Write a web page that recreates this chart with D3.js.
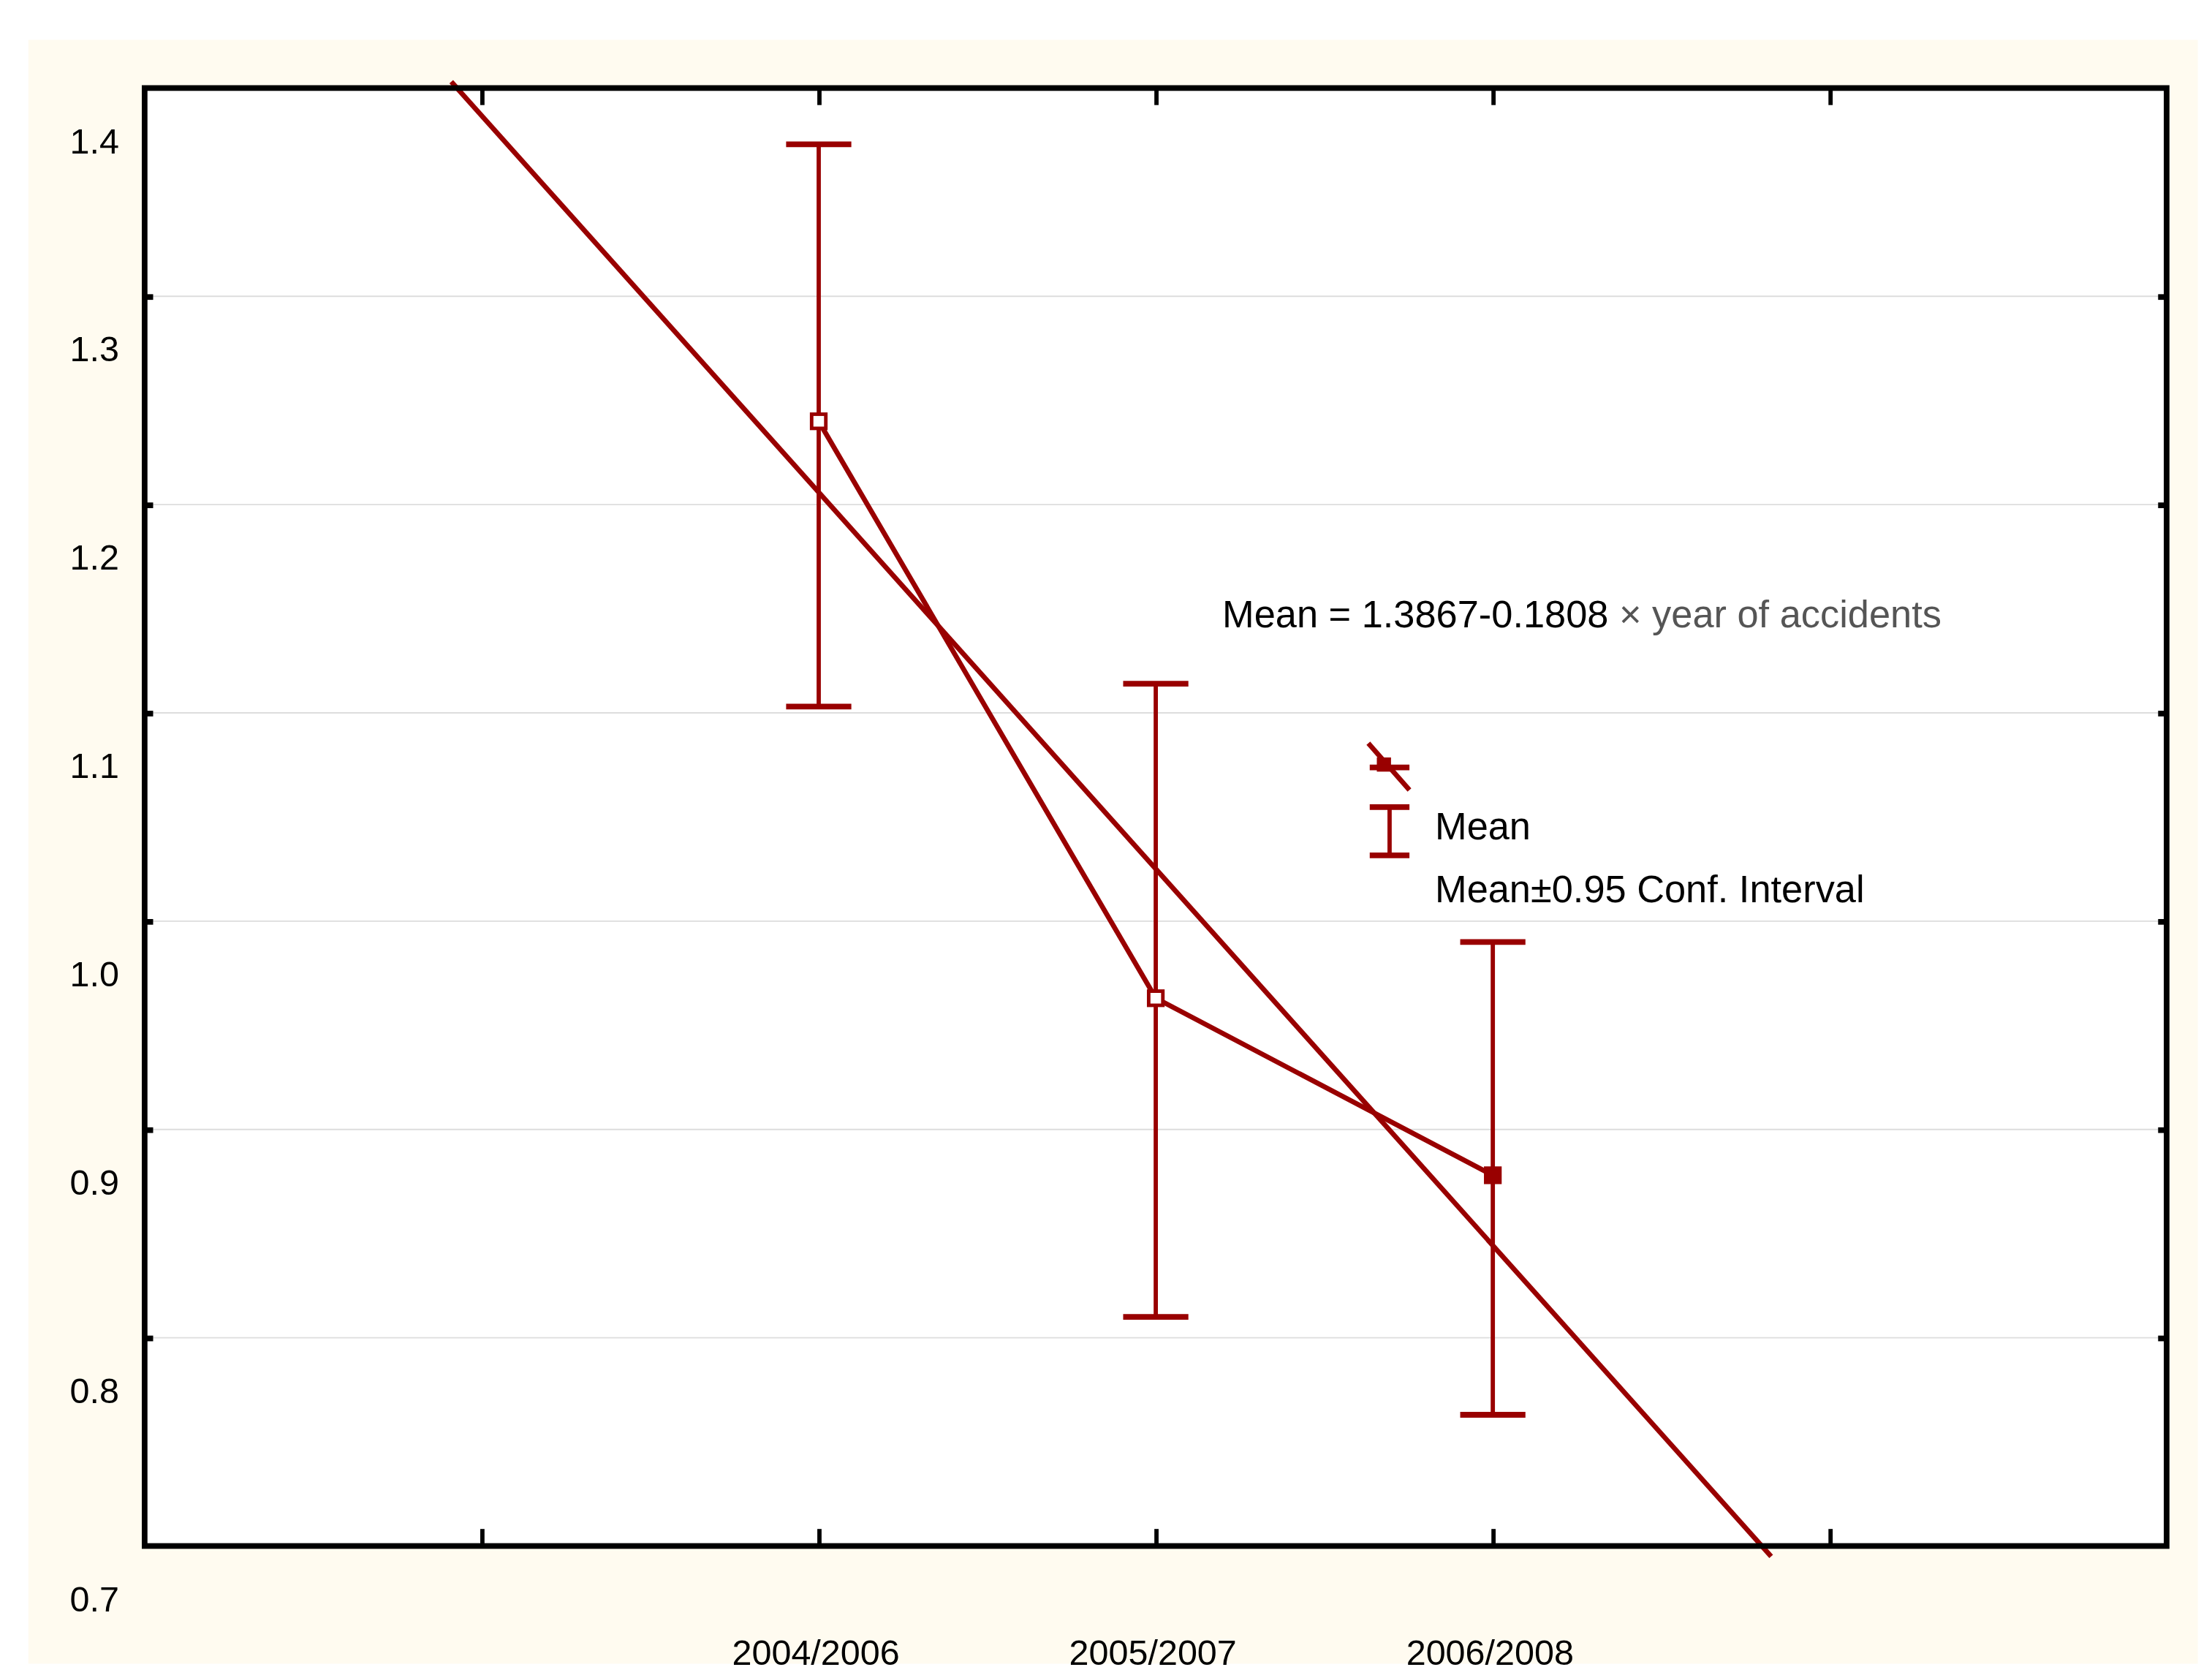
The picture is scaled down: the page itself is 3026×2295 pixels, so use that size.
<!DOCTYPE html>
<html><head><meta charset="utf-8">
<script src="https://cdn.jsdelivr.net/npm/d3@7"></script>
<style>body{margin:0;background:#fff}svg{display:block}</style>
</head><body>
<svg id="chart" width="3026" height="2295" viewBox="0 0 1560 1183"></svg>
<script>
// data
var categories = ["2004/2006", "2005/2007", "2006/2008"];
var means = [1.240, 0.963, 0.878];
var ciLow = [1.103, 0.810, 0.763];
var ciHigh = [1.373, 1.114, 0.990];
var yTicks = [0.7, 0.8, 0.9, 1.0, 1.1, 1.2, 1.3, 1.4];
var intercept = 1.3867, slope = -0.1808;

var red = "#990000";
var svg = d3.select("#chart");
var margin = {left: 102, right: 1528, top: 62, bottom: 1090};

svg.append("rect").attr("x", 20).attr("y", 28).attr("width", 1530).attr("height", 1145).attr("fill", "#fffbf0");
svg.append("rect").attr("x", margin.left).attr("y", margin.top)
  .attr("width", margin.right - margin.left).attr("height", margin.bottom - margin.top).attr("fill", "#fff");

var x = d3.scaleLinear().domain([0, 6]).range([margin.left, margin.left + 6 * 237.7]);
var y = d3.scaleLinear().domain([0.7, 1.4]).range([margin.bottom, margin.top]);
var xPos = function(i) { return x(i + 2); };

// grid
svg.append("g").selectAll("line").data(yTicks.slice(1, -1)).join("line")
  .attr("x1", margin.left).attr("x2", margin.right)
  .attr("y1", function(d) { return y(d); }).attr("y2", function(d) { return y(d); })
  .attr("stroke", "#dddddd").attr("stroke-width", 1);

// ticks on frame
var tk = d3.range(1, 6);
svg.append("g").attr("transform", "translate(0," + margin.bottom + ")")
  .call(d3.axisBottom(x).tickValues(tk).tickSize(-12).tickFormat(""))
  .call(function(g) { g.select(".domain").remove(); g.selectAll("line").attr("stroke-width", 3); });
svg.append("g").attr("transform", "translate(0," + margin.top + ")")
  .call(d3.axisTop(x).tickValues(tk).tickSize(-12).tickFormat(""))
  .call(function(g) { g.select(".domain").remove(); g.selectAll("line").attr("stroke-width", 3); });
svg.append("g").attr("transform", "translate(" + margin.left + ",0)")
  .call(d3.axisLeft(y).tickValues(yTicks.slice(1, -1)).tickSize(-6).tickFormat(""))
  .call(function(g) { g.select(".domain").remove(); g.selectAll("line").attr("stroke-width", 4); });
svg.append("g").attr("transform", "translate(" + margin.right + ",0)")
  .call(d3.axisRight(y).tickValues(yTicks.slice(1, -1)).tickSize(-6).tickFormat(""))
  .call(function(g) { g.select(".domain").remove(); g.selectAll("line").attr("stroke-width", 4); });

// tick labels (drawn offset below their gridlines, as in the original)
svg.append("g").selectAll("text").data(yTicks).join("text")
  .attr("x", 84).attr("y", function(d) { return y(d) + 46; })
  .attr("text-anchor", "end").attr("font-family", "Liberation Sans, Arial, sans-serif")
  .attr("font-size", 25).text(function(d) { return d.toFixed(1); });
svg.append("g").selectAll("text").data(categories).join("text")
  .attr("x", function(d, i) { return xPos(i) - 2; }).attr("y", 1174)
  .attr("text-anchor", "middle").attr("font-family", "Liberation Sans, Arial, sans-serif")
  .attr("font-size", 25).text(function(d) { return d; });

// regression line
var y0 = 1.403, y1 = 0.695;
var yr0 = (y0 - intercept) / slope, yr1 = (y1 - intercept) / slope;
svg.append("line")
  .attr("x1", x(yr0 + 1)).attr("y1", y(y0)).attr("x2", x(yr1 + 1)).attr("y2", y(y1))
  .attr("stroke", red).attr("stroke-width", 3.5);

// means line
svg.append("path").datum(means)
  .attr("d", d3.line().x(function(d, i) { return xPos(i); }).y(function(d) { return y(d); }))
  .attr("fill", "none").attr("stroke", red).attr("stroke-width", 3.5);

// error bars
var eb = svg.append("g").attr("stroke", red);
categories.forEach(function(c, i) {
  var cx = xPos(i);
  eb.append("line").attr("x1", cx).attr("x2", cx).attr("y1", y(ciHigh[i])).attr("y2", y(ciLow[i])).attr("stroke-width", 3);
  [ciHigh[i], ciLow[i]].forEach(function(v) {
    eb.append("line").attr("x1", cx - 23).attr("x2", cx + 23).attr("y1", y(v)).attr("y2", y(v)).attr("stroke-width", 4);
  });
});
svg.append("g").selectAll("rect").data(means).join("rect")
  .attr("x", function(d, i) { return xPos(i) - 5; }).attr("y", function(d) { return y(d) - 5; })
  .attr("width", 10).attr("height", 10)
  .attr("fill", function(d, i) { return i === 2 ? red : "#fff"; })
  .attr("stroke", red).attr("stroke-width", 2.5);

// legend
var lg = svg.append("g");
lg.append("line").attr("x1", 965).attr("y1", 524).attr("x2", 994).attr("y2", 557).attr("stroke", red).attr("stroke-width", 3.5);
lg.append("rect").attr("x", 971).attr("y", 534).attr("width", 10).attr("height", 10).attr("fill", red);
lg.append("line").attr("x1", 966).attr("x2", 994).attr("y1", 541).attr("y2", 541).attr("stroke", red).attr("stroke-width", 4);
lg.append("line").attr("x1", 980).attr("x2", 980).attr("y1", 569).attr("y2", 603).attr("stroke", red).attr("stroke-width", 3);
lg.append("line").attr("x1", 966).attr("x2", 994).attr("y1", 569).attr("y2", 569).attr("stroke", red).attr("stroke-width", 4);
lg.append("line").attr("x1", 966).attr("x2", 994).attr("y1", 603).attr("y2", 603).attr("stroke", red).attr("stroke-width", 4);
lg.append("text").attr("x", 1012).attr("y", 592).attr("font-family", "Liberation Sans, Arial, sans-serif").attr("font-size", 27).text("Mean");
lg.append("text").attr("x", 1012).attr("y", 636).attr("font-family", "Liberation Sans, Arial, sans-serif").attr("font-size", 27).text("Mean±0.95 Conf. Interval");

var eq = svg.append("text").attr("x", 862).attr("y", 442).attr("font-family", "Liberation Sans, Arial, sans-serif").attr("font-size", 27);
eq.append("tspan").text("Mean = " + intercept.toFixed(4) + "-" + (-slope).toFixed(4) + " ");
eq.append("tspan").attr("fill", "#555").text("× year of accidents");

// frame
svg.append("rect").attr("x", margin.left).attr("y", margin.top)
  .attr("width", margin.right - margin.left).attr("height", margin.bottom - margin.top)
  .attr("fill", "none").attr("stroke", "#000").attr("stroke-width", 4);
</script>
</body></html>
